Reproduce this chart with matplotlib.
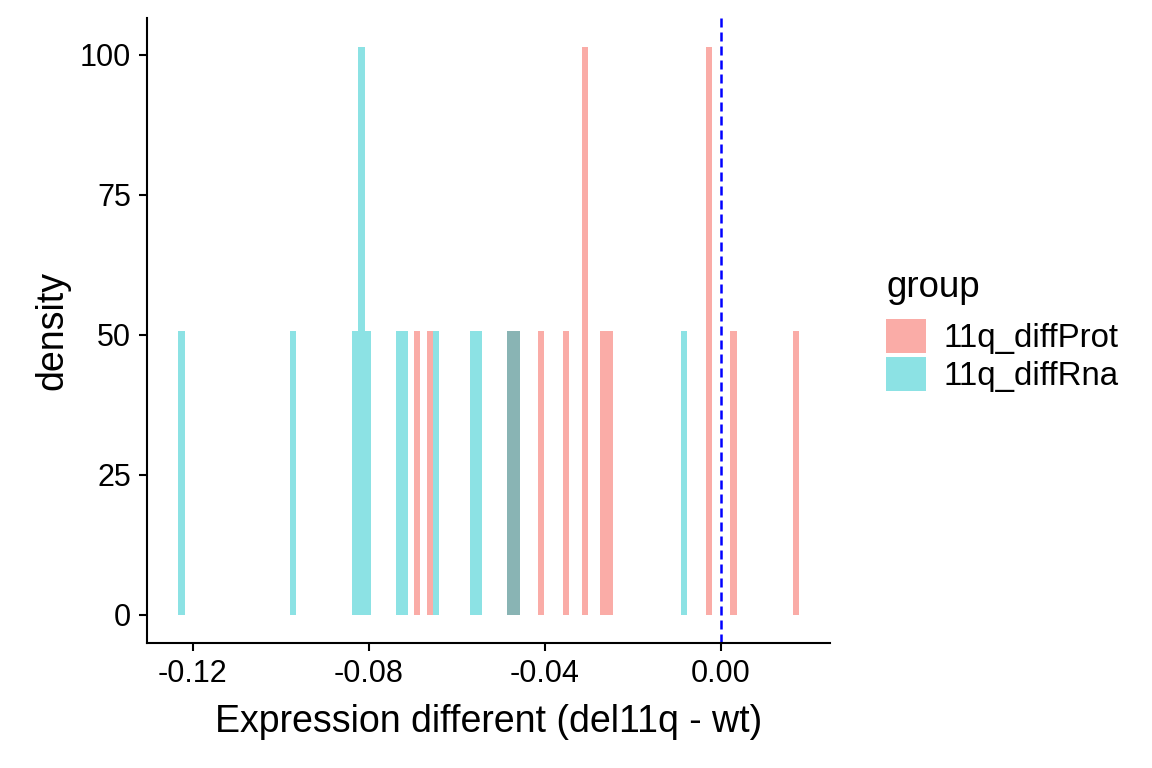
import numpy as np
import matplotlib
matplotlib.use("Agg")
import matplotlib.pyplot as plt
from matplotlib.patches import Patch
from matplotlib.ticker import FormatStrFormatter

plt.rcParams['font.family'] = ['Liberation Sans', 'DejaVu Sans']
plt.rcParams['axes.unicode_minus'] = False

# expression differences (del11q - wt)
diff_prot = [-0.06899, -0.06618, -0.04786, -0.04645, -0.04081, -0.03518,
             -0.03095, -0.03095, -0.02672, -0.02531, -0.00277, -0.00277,
             0.00287, 0.01696]
diff_rna = [-0.12254, -0.09717, -0.08308, -0.08167, -0.08167, -0.08027,
            -0.07322, -0.07181, -0.06477, -0.05631, -0.05490, -0.04786,
            -0.04645, -0.00841]
groups = ['11q_diffProt', '11q_diffRna']
x_ticks = [-0.12, -0.08, -0.04, 0.00]
y_ticks = [0, 25, 50, 75, 100]

binwidth = 0.001409
all_vals = np.array(diff_prot + diff_rna)
edges = np.arange(all_vals.min() - binwidth / 2, all_vals.max() + binwidth, binwidth)

pink = '#F8766D'
cyan = '#00BFC4'

fig = plt.figure(figsize=(11.52, 7.68), dpi=100)
ax = fig.add_axes([0.1276, 0.16276, 0.59288, 0.8138])

ax.hist(diff_prot, bins=edges, density=True, color=pink, alpha=0.6, linewidth=0)
ax.hist(diff_rna, bins=edges, density=True, color=cyan, alpha=0.45, linewidth=0)
ax.axvline(0, color='blue', linewidth=1.8, linestyle=(0, (3.6, 2.0)))

ax.set_xlim(-0.13038, 0.02476)
ax.set_ylim(-5.0, 106.6)
ax.set_xticks(x_ticks)
ax.set_yticks(y_ticks)
ax.xaxis.set_major_formatter(FormatStrFormatter('%.2f'))

for s in ['top', 'right']:
    ax.spines[s].set_visible(False)
for s in ['left', 'bottom']:
    ax.spines[s].set_linewidth(1.5)
ax.tick_params(axis='both', length=5.8, width=1.5, labelsize=22, pad=5.8, colors='black')

ax.set_xlabel('Expression different (del11q - wt)', fontsize=27, labelpad=11)
ax.set_ylabel('density', fontsize=27, labelpad=7)

# legend
fig.text(886 / 1152, 1 - 287 / 768, 'group', fontsize=26.4, ha='left', va='center')
handles = [Patch(facecolor=pink, alpha=0.6, linewidth=0),
           Patch(facecolor=cyan, alpha=0.45, linewidth=0)]
fig.legend(handles, groups, loc='upper left',
           bbox_to_anchor=(886 / 1152, 1 - 319 / 768), frameon=False,
           fontsize=23.8, handlelength=1.2, handleheight=1.2, handletextpad=0.55,
           labelspacing=0.08, borderpad=0, borderaxespad=0)

fig.savefig('out.png', dpi=100)
